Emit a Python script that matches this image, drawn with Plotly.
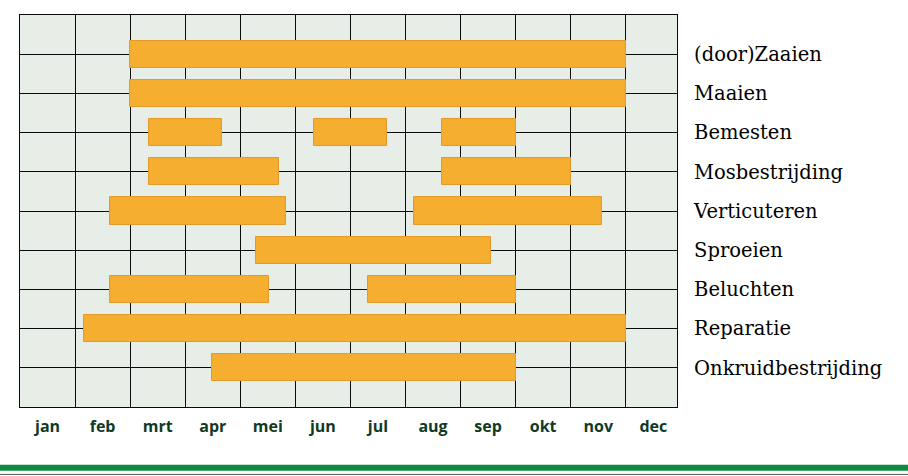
import plotly.graph_objects as go

months = ["jan", "feb", "mrt", "apr", "mei", "jun", "jul", "aug", "sep", "okt", "nov", "dec"]
tasks = ["(door)Zaaien", "Maaien", "Bemesten", "Mosbestrijding", "Verticuteren",
         "Sproeien", "Beluchten", "Reparatie", "Onkruidbestrijding"]

# each segment: task index (1 = top row), start month, end month (0 = begin jan)
seg_task = [1, 2, 3, 3, 3, 4, 4, 5, 5, 6, 7, 7, 8, 9]
seg_start = [2.0, 2.0, 2.34, 5.34, 7.66, 2.34, 7.66, 1.63, 7.16, 4.28, 1.63, 6.32, 1.16, 3.49]
seg_end = [11.0, 11.0, 3.66, 6.66, 9.0, 4.70, 10.0, 4.83, 10.56, 8.55, 4.53, 9.0, 11.0, 9.0]

lengths = [e - s for s, e in zip(seg_start, seg_end)]

fig = go.Figure()
fig.add_trace(go.Bar(
    orientation="h",
    y=seg_task,
    x=lengths,
    base=seg_start,
    width=0.69,
    marker=dict(color="#F5AE2F", line=dict(color="#E29A28", width=1)),
    hoverinfo="skip",
    showlegend=False,
))

grid_col = "#0A0A0A"
fig.update_layout(
    width=908, height=476,
    margin=dict(l=20, r=231, t=15, b=69),
    paper_bgcolor="white",
    plot_bgcolor="#E7EDE7",
    bargap=0,
    xaxis=dict(
        range=[0, 11.93],
        tickvals=[i + 0.5 for i in range(12)],
        ticktext=months,
        showgrid=False,
        zeroline=False,
        ticks="",
        ticklabelstandoff=5,
        tickfont=dict(family="Open Sans", size=16, color="#0F3A26", weight=700),
        minor=dict(tick0=0, dtick=1, showgrid=True, gridcolor=grid_col, gridwidth=1.4, ticks=""),
        showline=True, linecolor=grid_col, linewidth=1.4, mirror=True,
        fixedrange=True,
    ),
    yaxis=dict(
        range=[10, 0],
        tickvals=list(range(1, 10)),
        ticktext=tasks,
        side="right",
        showgrid=True, gridcolor=grid_col, gridwidth=1.4,
        zeroline=False,
        ticks="",
        ticklabelstandoff=12,
        tickfont=dict(family="DejaVu Serif", size=19.5, color="#000000"),
        showline=True, linecolor=grid_col, linewidth=1.4, mirror=True,
        fixedrange=True,
    ),
    shapes=[
        dict(type="rect", xref="paper", yref="paper", x0=-0.04, x1=1.4,
             y0=-0.1625, y1=-0.1475, fillcolor="#0E8A3F", line=dict(width=0), layer="above"),
        dict(type="line", xref="paper", yref="paper", x0=-0.04, x1=1.4,
             y0=-0.172, y1=-0.172, line=dict(color="#555555", width=1)),
    ],
)

fig.write_html("out.html", config={"displayModeBar": False})

with open("out.html", "r", encoding="utf-8") as f:
    html = f.read()
html = html.replace("<body>", '<body style="margin:0;padding:0;overflow:hidden">', 1)
with open("out.html", "w", encoding="utf-8") as f:
    f.write(html)
